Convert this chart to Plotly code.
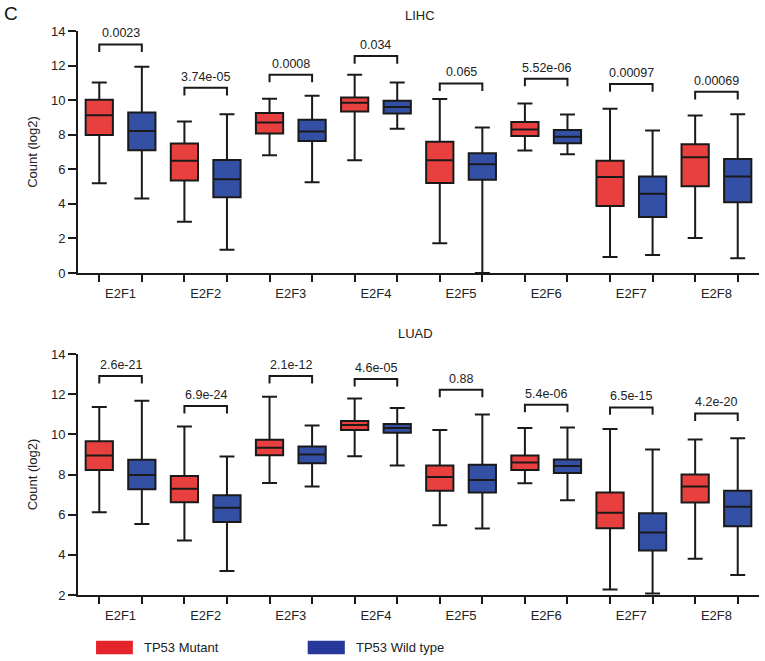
import plotly.graph_objects as go

categories = ["E2F1", "E2F2", "E2F3", "E2F4", "E2F5", "E2F6", "E2F7", "E2F8"]
groups = ["TP53 Mutant", "TP53 Wild type"]

# ---- LIHC ----
lihc_mut_upper = [11.02, 8.76, 10.08, 11.47, 10.06, 9.81, 9.50, 9.11]
lihc_mut_q3 = [10.02, 7.49, 9.25, 10.15, 7.59, 8.73, 6.49, 7.45]
lihc_mut_med = [9.13, 6.49, 8.71, 9.85, 6.53, 8.30, 5.56, 6.70]
lihc_mut_q1 = [7.99, 5.35, 8.07, 9.34, 5.21, 7.93, 3.88, 5.02]
lihc_mut_lower = [5.19, 2.97, 6.81, 6.53, 1.72, 7.08, 0.93, 2.03]

lihc_wt_upper = [11.93, 9.19, 10.25, 11.02, 8.42, 9.17, 8.24, 9.19]
lihc_wt_q3 = [9.29, 6.54, 8.86, 9.96, 6.93, 8.28, 5.58, 6.60]
lihc_wt_med = [8.22, 5.42, 8.19, 9.61, 6.29, 7.88, 4.59, 5.58]
lihc_wt_q1 = [7.10, 4.38, 7.63, 9.23, 5.39, 7.51, 3.24, 4.09]
lihc_wt_lower = [4.31, 1.35, 5.25, 8.34, 0.0, 6.87, 1.04, 0.85]

lihc_pvals = ["0.0023", "3.74e-05", "0.0008", "0.034", "0.065", "5.52e-06", "0.00097", "0.00069"]
lihc_bracket_y = [13.22, 10.71, 11.47, 12.55, 10.97, 11.24, 10.93, 10.48]

# ---- LUAD ----
luad_mut_upper = [11.36, 10.39, 11.87, 11.79, 10.21, 10.31, 10.26, 9.74]
luad_mut_q3 = [9.66, 7.92, 9.73, 10.66, 8.45, 8.95, 7.10, 8.00]
luad_mut_med = [8.95, 7.29, 9.33, 10.46, 7.88, 8.60, 6.09, 7.40]
luad_mut_q1 = [8.23, 6.62, 8.96, 10.21, 7.19, 8.23, 5.32, 6.60]
luad_mut_lower = [6.12, 4.71, 7.58, 8.91, 5.47, 7.57, 2.27, 3.81]

luad_wt_upper = [11.67, 8.90, 10.44, 11.31, 10.99, 10.34, 9.25, 9.81]
luad_wt_q3 = [8.73, 6.97, 9.40, 10.51, 8.48, 8.75, 6.07, 7.19]
luad_wt_med = [7.97, 6.34, 9.00, 10.31, 7.72, 8.42, 5.11, 6.40]
luad_wt_q1 = [7.27, 5.64, 8.56, 10.08, 7.10, 8.08, 4.21, 5.42]
luad_wt_lower = [5.54, 3.20, 7.40, 8.45, 5.31, 6.72, 2.07, 3.00]

luad_pvals = ["2.6e-21", "6.9e-24", "2.1e-12", "4.6e-05", "0.88", "5.4e-06", "6.5e-15", "4.2e-20"]
luad_bracket_y = [12.90, 11.41, 12.90, 12.75, 12.22, 11.47, 11.34, 11.04]

lihc_yticks = [0, 2, 4, 6, 8, 10, 12, 14]
luad_yticks = [2, 4, 6, 8, 10, 12, 14]

# ---- styling ----
RED = "#E8403F"
BLUE = "#3450A5"
RED_LEG = "#E5232B"
BLUE_LEG = "#26389A"
LINE = "#1a1a1a"
FONT = "Liberation Sans, Arial, sans-serif"
OFF = 0.25

idx = list(range(len(categories)))
mut_x = [i - OFF for i in idx]
wt_x = [i + OFF for i in idx]

fig = go.Figure()


def add_boxes(xs, q1, med, q3, lo, hi, color, name, xa, ya):
    fig.add_trace(go.Box(
        x=xs, q1=q1, median=med, q3=q3, lowerfence=lo, upperfence=hi,
        fillcolor=color, line=dict(color=LINE, width=2),
        width=0.32, whiskerwidth=0.55, boxpoints=False,
        name=name, showlegend=False, xaxis=xa, yaxis=ya, hoverinfo="skip"))


add_boxes(mut_x, lihc_mut_q1, lihc_mut_med, lihc_mut_q3, lihc_mut_lower, lihc_mut_upper, RED, groups[0], "x", "y")
add_boxes(wt_x, lihc_wt_q1, lihc_wt_med, lihc_wt_q3, lihc_wt_lower, lihc_wt_upper, BLUE, groups[1], "x", "y")
add_boxes(mut_x, luad_mut_q1, luad_mut_med, luad_mut_q3, luad_mut_lower, luad_mut_upper, RED, groups[0], "x2", "y2")
add_boxes(wt_x, luad_wt_q1, luad_wt_med, luad_wt_q3, luad_wt_lower, luad_wt_upper, BLUE, groups[1], "x2", "y2")

shapes = []
annotations = []


def add_brackets(bys, pvals, xref, yref, leg):
    for i, (by, p) in enumerate(zip(bys, pvals)):
        x0, x1 = i - OFF, i + OFF
        shapes.append(dict(type="path", xref=xref, yref=yref,
                           path=f"M {x0},{by - leg} L {x0},{by} L {x1},{by} L {x1},{by - leg}",
                           line=dict(color=LINE, width=2)))
        annotations.append(dict(x=i, y=by, xref=xref, yref=yref, text=p, showarrow=False,
                                yanchor="bottom", yshift=2, font=dict(size=12.5, color="#222", family=FONT)))


add_brackets(lihc_bracket_y, lihc_pvals, "x", "y", 0.44)
add_brackets(luad_bracket_y, luad_pvals, "x2", "y2", 0.37)

# titles and panel letter
annotations.append(dict(x=0.502, y=1.0266, xref="paper", yref="paper", text="LIHC", showarrow=False,
                        xanchor="center", yanchor="middle",
                        font=dict(size=13, color="#222", family=FONT)))
annotations.append(dict(x=0.495, y=0.4628, xref="paper", yref="paper", text="LUAD", showarrow=False,
                        xanchor="center", yanchor="middle",
                        font=dict(size=13, color="#222", family=FONT)))
annotations.append(dict(x=-0.0977, y=1.031, xref="paper", yref="paper", text="C", showarrow=False,
                        xanchor="center", yanchor="middle",
                        font=dict(size=19, color="#111", family=FONT)))

# custom legend
leg_y0, leg_y1 = -0.081, -0.1051
for (xa, xb, col, lab, xt) in [(0.0265, 0.0806, RED_LEG, groups[0], 0.0938),
                               (0.3373, 0.3918, BLUE_LEG, groups[1], 0.405)]:
    shapes.append(dict(type="rect", xref="paper", yref="paper", x0=xa, x1=xb, y0=leg_y1, y1=leg_y0,
                       fillcolor=col, line=dict(width=0)))
    annotations.append(dict(x=xt, y=(leg_y0 + leg_y1) / 2, xref="paper", yref="paper", text=lab,
                            showarrow=False, xanchor="left", yanchor="middle",
                            font=dict(size=13, color="#222", family=FONT)))

xaxis_common = dict(
    range=[-0.5, 7.5], tickmode="array", tickvals=idx, ticktext=categories,
    ticks="outside", ticklen=7, tickcolor="rgba(0,0,0,0)",
    minor=dict(tickmode="array", tickvals=mut_x + wt_x, ticks="outside", ticklen=7,
               tickwidth=2, tickcolor=LINE, showgrid=False),
    showline=True, linecolor=LINE, linewidth=2, showgrid=False, zeroline=False,
    tickfont=dict(size=13, color="#222", family=FONT),
)
yaxis_common = dict(
    ticks="outside", ticklen=8, tickwidth=2, tickcolor=LINE,
    showline=True, linecolor=LINE, linewidth=2, showgrid=False, zeroline=False,
    tickfont=dict(size=13, color="#222", family=FONT),
    title=dict(text="Count (log2)", font=dict(size=13, color="#222", family=FONT), standoff=10),
)

fig.update_layout(
    width=765, height=661,
    margin=dict(l=78, r=6, t=31, b=66),
    paper_bgcolor="white", plot_bgcolor="white",
    font=dict(family=FONT, color="#222"),
    xaxis=dict(domain=[0, 1], anchor="y", **xaxis_common),
    yaxis=dict(domain=[0.5709, 1.0], anchor="x", range=[0, 14], tickvals=lihc_yticks, **yaxis_common),
    xaxis2=dict(domain=[0, 1], anchor="y2", **xaxis_common),
    yaxis2=dict(domain=[0.0, 0.4273], anchor="x2", range=[2, 14], tickvals=luad_yticks, **yaxis_common),
    shapes=shapes, annotations=annotations,
    showlegend=False,
)

fig.write_html("out.html", config={"displayModeBar": False},
               post_script="document.body.style.margin='0';document.body.style.overflow='hidden';")
